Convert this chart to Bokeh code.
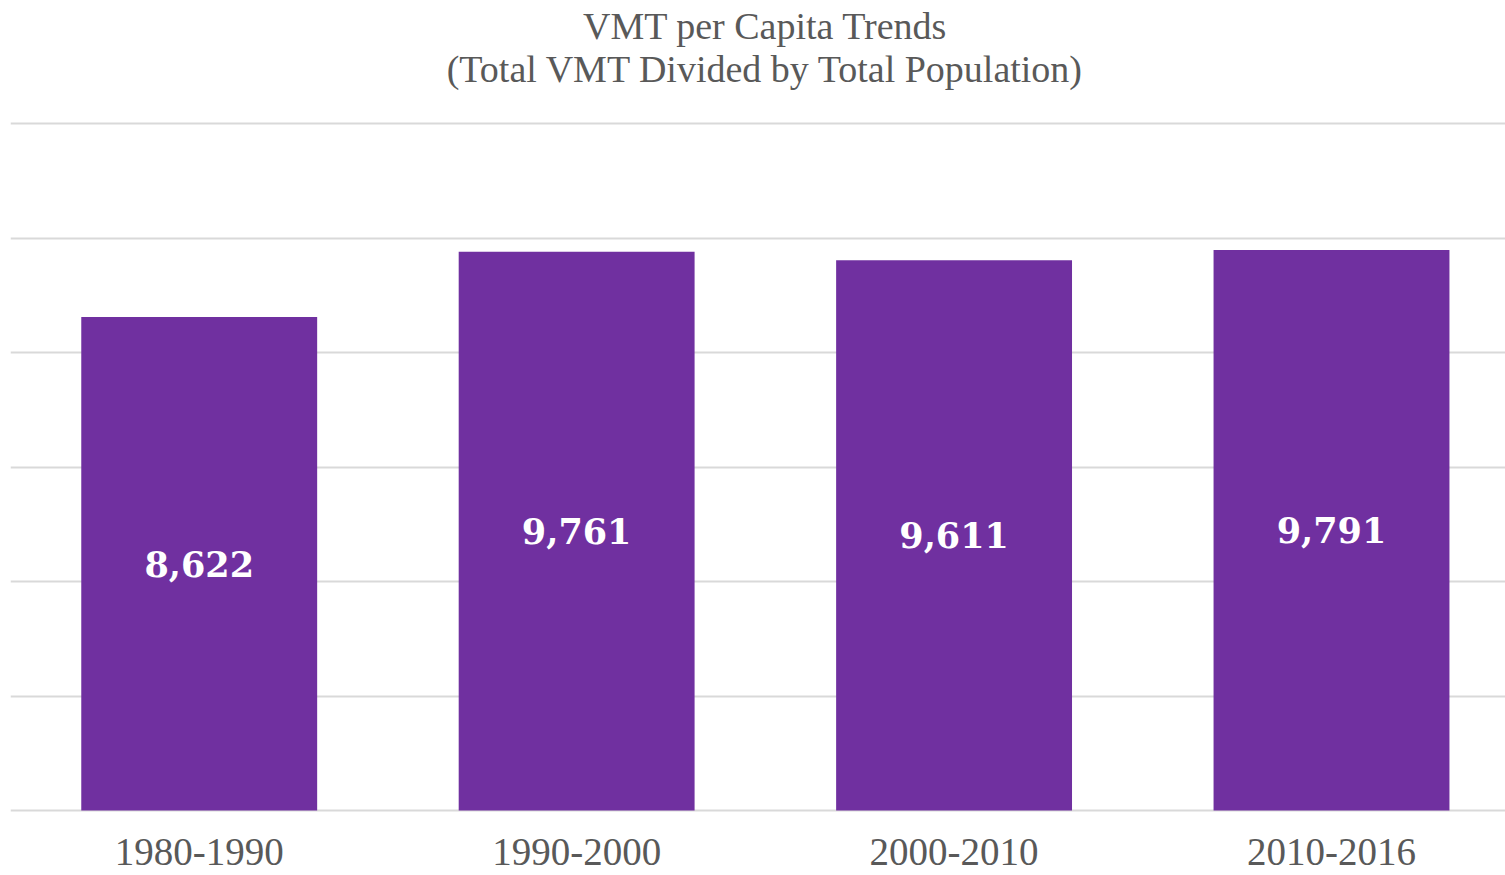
from bokeh.plotting import figure
from bokeh.models import Range1d, FixedTicker, ColumnDataSource
from bokeh.core.properties import value
from bokeh.embed import file_html
from bokeh.resources import INLINE

periods = ["1980-1990", "1990-2000", "2000-2010", "2010-2016"]
vmt_per_capita = [8622, 9761, 9611, 9791]
value_labels = ["8,622", "9,761", "9,611", "9,791"]
grid_ticks = [0, 2000, 4000, 6000, 8000, 10000, 12000]
title_line1 = "VMT per Capita Trends"
title_line2 = "(Total VMT Divided by Total Population)"

# layout (pixels)
W, H = 1505, 875
LEFT = 10
Y_TOP_PX, Y_ZERO_PX = 123, 810          # pixel rows of the 12000 and 0 gridlines
ppu = (Y_ZERO_PX - Y_TOP_PX) / grid_ticks[-1]
y_start = -(H - Y_ZERO_PX) / ppu
y_end = grid_ticks[-1] + Y_TOP_PX / ppu

xs = list(range(len(periods)))
src = ColumnDataSource(dict(
    x=xs,
    top=vmt_per_capita,
    mid=[v / 2 for v in vmt_per_capita],
    lab=value_labels,
    per=periods,
    zero=[0] * len(periods),
))

p = figure(width=W, height=H, output_backend="svg", toolbar_location=None,
           x_range=Range1d(-0.5, 3.461), y_range=Range1d(y_start, y_end),
           x_axis_location=None, y_axis_location=None,
           min_border=0, min_border_left=LEFT)
p.outline_line_color = None
p.background_fill_color = "white"
p.border_fill_color = "white"

p.ygrid.ticker = FixedTicker(ticks=grid_ticks)
p.ygrid.grid_line_color = "#d9d9d9"
p.ygrid.grid_line_width = 2
p.xgrid.visible = False

p.vbar(x="x", top="top", bottom=0, width=0.625, source=src,
       fill_color="#7030a0", line_color=None)

# value labels inside bars
p.text(x="x", y="mid", text="lab", source=src, text_align="center",
       text_baseline="middle", text_color="white",
       text_font=value("DejaVu Serif"), text_font_style="bold",
       text_font_size="35px")

# category labels below the baseline
p.text(x="x", y="zero", text="per", source=src, text_align="center",
       text_baseline="middle", text_color="#595959", y_offset=41,
       text_font=value("Liberation Serif"), text_font_size="39px")

# two-line title centered over the categories
tsrc = ColumnDataSource(dict(
    x=[(xs[0] + xs[-1]) / 2] * 2,
    y=[grid_ticks[-1]] * 2,
    t=[title_line1, title_line2],
    off=[-98, -55],
))
p.text(x="x", y="y", text="t", source=tsrc, y_offset="off",
       text_align="center", text_baseline="middle", text_color="#595959",
       text_font=value("Liberation Serif"), text_font_size="38px")

open("out.html", "w").write(file_html(p, INLINE))
